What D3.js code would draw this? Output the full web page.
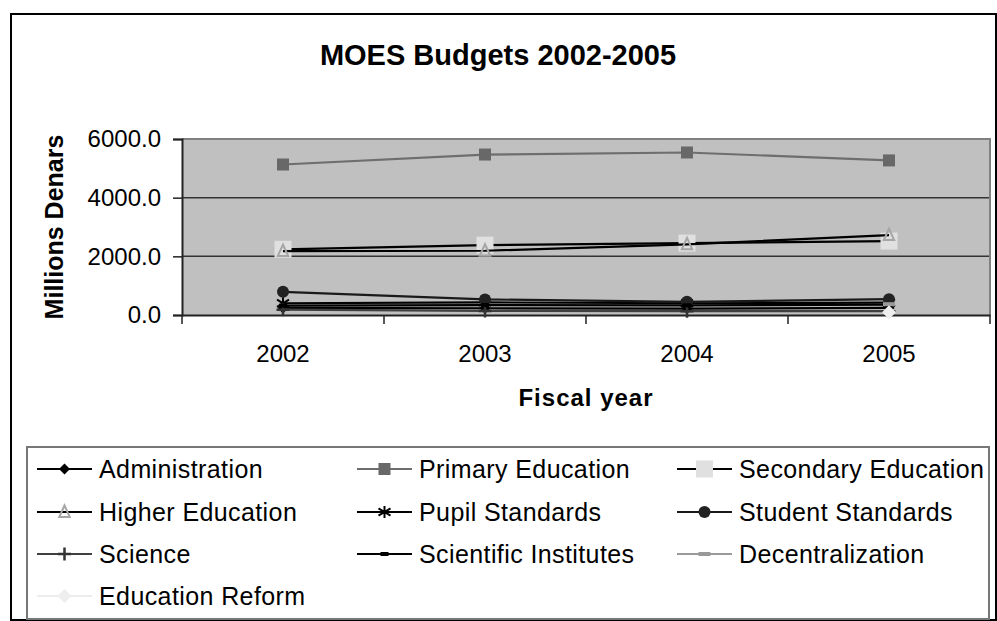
<!DOCTYPE html>
<html><head><meta charset="utf-8">
<script src="https://cdn.jsdelivr.net/npm/d3@7"></script>
<style>body{margin:0;background:#fff}svg{display:block}text{font-family:"Liberation Sans",Arial,sans-serif}</style>
</head><body>
<svg id="c" width="997" height="621"></svg>
<script>
const years = ["2002","2003","2004","2005"];
const yTicks = [0, 2000, 4000, 6000];
const seriesNames = ["Administration","Primary Education","Secondary Education","Higher Education","Pupil Standards","Student Standards","Science","Scientific Institutes","Decentralization","Education Reform"];
const administration = [240, 230, 220, 240];
const primaryEducation = [5130, 5470, 5540, 5270];
const secondaryEducation = [2240, 2380, 2450, 2520];
const higherEducation = [2180, 2190, 2410, 2720];
const pupilStandards = [400, 430, 400, 420];
const studentStandards = [790, 530, 450, 540];
const science = [180, 140, 130, 130];
const scientificInstitutes = [320, 340, 330, 350];
const decentralization = [null, null, null, 370];
const educationReform = [null, null, null, 90];
const values = [administration, primaryEducation, secondaryEducation, higherEducation, pupilStandards, studentStandards, science, scientificInstitutes, decentralization, educationReform];

const styles = [
  {line:"#000", marker:"diamond", fill:"#000", size:11},
  {line:"#6e6e6e", marker:"square", fill:"#686868", size:12},
  {line:"#000", marker:"square", fill:"#e0e0e0", size:17},
  {line:"#000", marker:"triangle", fill:"none", stroke:"#a6a6a6", size:13},
  {line:"#000", marker:"asterisk", stroke:"#000", size:12},
  {line:"#1a1a1a", marker:"circle", fill:"#222", size:12},
  {line:"#404040", marker:"plus", stroke:"#333", size:13},
  {line:"#000", marker:"dash", fill:"#000", size:8},
  {line:"#9a9a9a", marker:"dash", fill:"#999", size:12},
  {line:"#ececec", marker:"diamond", fill:"#eeeeee", size:14}
];

const svg = d3.select("#c");
svg.append("rect").attr("x",11).attr("y",14).attr("width",985).attr("height",606).attr("fill","#fff").attr("stroke","#000").attr("stroke-width",2);

const L=182,R=990,T=139,B=315;
const x = d3.scaleBand().domain(years).range([L,R]);
const y = d3.scaleLinear().domain([0,6000]).range([B,T]);

svg.append("text").attr("x",498).attr("y",65).attr("text-anchor","middle").attr("font-size",29).attr("font-weight","bold").text("MOES Budgets 2002-2005");

svg.append("rect").attr("x",L).attr("y",T).attr("width",R-L).attr("height",B-T).attr("fill","#c0c0c0");
svg.append("g").selectAll("line").data(yTicks.filter(d=>d>0&&d<6000)).join("line")
  .attr("x1",L).attr("x2",R).attr("y1",d=>y(d)).attr("y2",d=>y(d)).attr("stroke","#333").attr("stroke-width",1.5);
svg.append("path").attr("d",`M${L},${T}H${R}V${B}`).attr("fill","none").attr("stroke","#808080").attr("stroke-width",2);

const yAxis = svg.append("g").attr("transform",`translate(${L},0)`).call(d3.axisLeft(y).tickValues(yTicks).tickFormat(d3.format(".1f")).tickSize(9).tickPadding(12));
yAxis.select(".domain").attr("stroke","#222").attr("stroke-width",2);
yAxis.selectAll(".tick line").attr("stroke","#222").attr("stroke-width",1.5);
yAxis.selectAll("text").attr("font-size",24).attr("fill","#000").attr("font-family","Liberation Sans, Arial");

const xAxis = svg.append("g").attr("transform",`translate(0,${B})`).call(d3.axisBottom(x).tickSize(0).tickPadding(30));
xAxis.select(".domain").attr("stroke","#222").attr("stroke-width",2);
xAxis.selectAll("text").attr("font-size",24).attr("fill","#000").attr("font-family","Liberation Sans, Arial");
svg.append("g").selectAll("line").data(years.concat(["end"])).join("line")
  .attr("x1",(d,i)=>L+i*x.step()).attr("x2",(d,i)=>L+i*x.step()).attr("y1",B).attr("y2",B+9).attr("stroke","#222").attr("stroke-width",1.5);

svg.append("text").attr("transform",`translate(63,${(T+B)/2}) rotate(-90)`).attr("text-anchor","middle").attr("font-size",25).attr("font-weight","bold").text("Millions Denars");
svg.append("text").attr("x",(L+R)/2).attr("y",406).attr("text-anchor","middle").attr("font-size",24).attr("font-weight","bold").attr("letter-spacing",1).text("Fiscal year");

function drawMarker(g, s, cx, cy){
  const h=s.size/2;
  if(s.marker==="square") g.append("rect").attr("x",cx-h).attr("y",cy-h).attr("width",s.size).attr("height",s.size).attr("fill",s.fill);
  else if(s.marker==="diamond") g.append("path").attr("d",`M${cx},${cy-h}L${cx+h},${cy}L${cx},${cy+h}L${cx-h},${cy}Z`).attr("fill",s.fill);
  else if(s.marker==="circle") g.append("circle").attr("cx",cx).attr("cy",cy).attr("r",h).attr("fill",s.fill);
  else if(s.marker==="triangle") g.append("path").attr("d",`M${cx},${cy-h}L${cx+h*0.8},${cy+h*0.75}L${cx-h*0.8},${cy+h*0.75}Z`).attr("fill","none").attr("stroke",s.stroke).attr("stroke-width",2);
  else if(s.marker==="plus") g.append("path").attr("d",`M${cx-h},${cy}H${cx+h}M${cx},${cy-h}V${cy+h}`).attr("stroke",s.stroke).attr("stroke-width",2.5);
  else if(s.marker==="asterisk") g.append("path").attr("d",`M${cx},${cy-h}V${cy+h}M${cx-h},${cy-h*0.6}L${cx+h},${cy+h*0.6}M${cx-h},${cy+h*0.6}L${cx+h},${cy-h*0.6}`).attr("stroke",s.stroke).attr("stroke-width",2);
  else if(s.marker==="dash") g.append("rect").attr("x",cx-h).attr("y",cy-2).attr("width",s.size).attr("height",4).attr("fill",s.fill);
}

const line = d3.line().defined(d=>d.v!=null).x(d=>x(d.yr)+x.bandwidth()/2).y(d=>y(d.v));
const plot = svg.append("g");
values.forEach((vals,i)=>{
  const s=styles[i];
  const pts = years.map((yr,j)=>({yr, v:vals[j]}));
  plot.append("path").attr("d",line(pts)).attr("fill","none").attr("stroke",s.line).attr("stroke-width",2.2);
  pts.filter(p=>p.v!=null).forEach(p=>drawMarker(plot,s,x(p.yr)+x.bandwidth()/2,y(p.v)));
});

svg.append("rect").attr("x",27).attr("y",447).attr("width",962).attr("height",172).attr("fill","#fff").attr("stroke","#777").attr("stroke-width",2);
const colX=[37,357,677], rowY=[469,512,554,596];
seriesNames.forEach((name,i)=>{
  const s=styles[i], cx=colX[i%3], cy=rowY[Math.floor(i/3)];
  const g=svg.append("g");
  g.append("line").attr("x1",cx).attr("x2",cx+55).attr("y1",cy).attr("y2",cy).attr("stroke",s.line).attr("stroke-width",2.2);
  drawMarker(g,s,cx+27.5,cy);
  g.append("text").attr("x",cx+62).attr("y",cy+9).attr("font-size",25).attr("letter-spacing",0.4).text(name);
});
</script>
</body></html>
